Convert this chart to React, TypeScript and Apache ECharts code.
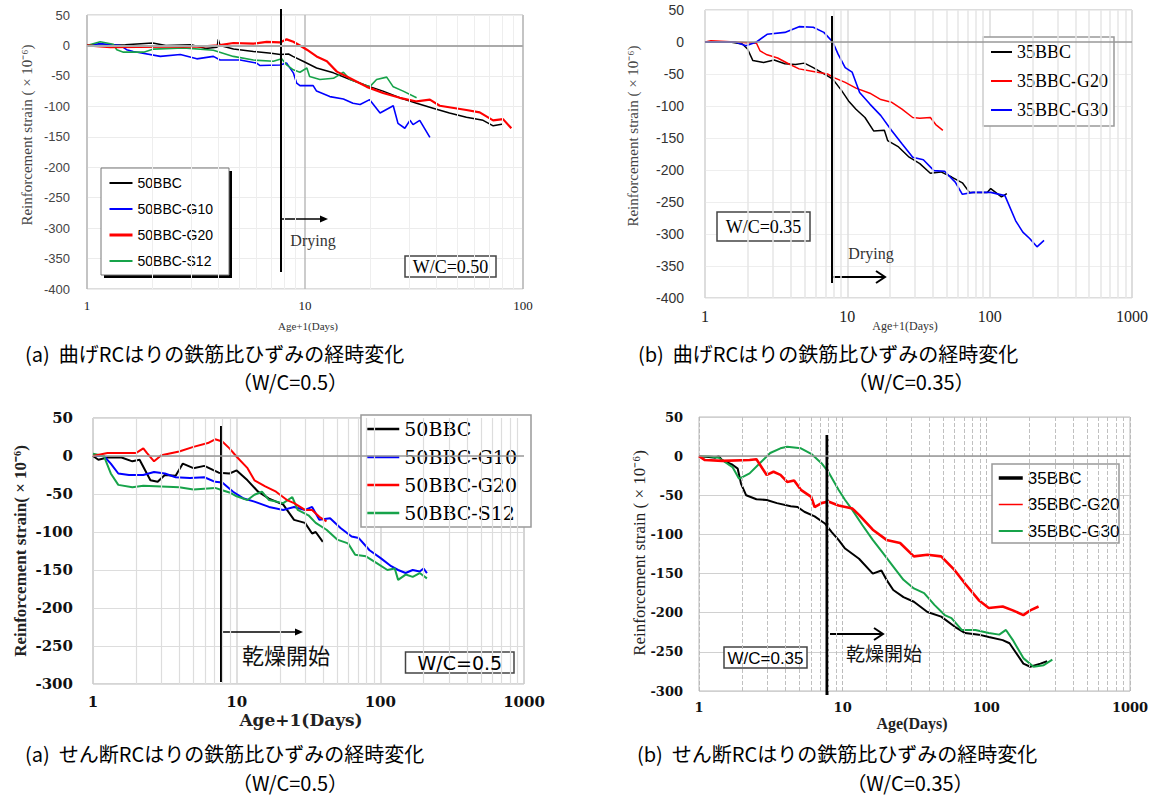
import React, { useEffect, useRef } from "react";
import * as echarts from "echarts";

// ---------- tick / gridline values ----------
const MINOR_2DEC = [2, 3, 4, 5, 6, 7, 8, 9, 20, 30, 40, 50, 60, 70, 80, 90];
const MINOR_3DEC = [...MINOR_2DEC, 200, 300, 400, 500, 600, 700, 800, 900];

// ---------- panel 1 : bending RC, W/C=0.5 ----------
const P1_NAMES = ["50BBC", "50BBC-G10", "50BBC-G20", "50BBC-S12"];
const P1_50BBC = [[1,0],[1.5,1],[2.0,4],[2.3,0],[3.0,1],[3.5,-5],[3.95,-3],[4.0,10],[4.08,0],[4.7,-6],[5.8,-10],[7.0,-13],[7.7,-15],[8.4,-14],[8.8,-18],[9.8,-26],[11.3,-37],[13.5,-45],[16.1,-56],[19.2,-66],[22.8,-75],[27.2,-86],[32.5,-95],[38.7,-103],[46,-111],[55,-118],[65.6,-123],[73,-132],[81,-129]];
const P1_G10 = [[1,0],[1.15,3],[1.42,0],[1.52,-7],[1.63,-10],[2.17,-18],[2.68,-15],[3.19,-22],[3.8,-18],[4.08,-24],[5.04,-24],[6.0,-29],[6.22,-33],[7.68,-32],[8.24,-29],[8.84,-45],[9.16,-62],[9.48,-66],[10.9,-66],[11.3,-75],[13.0,-84],[15,-88],[16.6,-95],[17.9,-97],[19.8,-89],[22.1,-111],[25.4,-99],[26.7,-128],[28.7,-136],[30.3,-123],[31.3,-130],[33.6,-123],[37.4,-151]];
const P1_G20 = [[1,0],[1.28,-3],[2.32,-2],[3.3,-2],[4.0,0],[4.69,4],[5.8,3],[6.67,6],[7.68,5],[8.24,10],[8.84,6],[9.48,0],[10.2,-7],[11.3,-18],[12.6,-26],[14,-43],[16.1,-54],[19.2,-68],[22.8,-78],[27.2,-86],[32.5,-92],[37.4,-89],[41.5,-99],[55,-106],[63.3,-110],[72.9,-123],[81,-121],[88.4,-136]];
const P1_S12 = [[1,0],[1.15,6],[1.32,2],[1.37,-7],[1.47,-11],[1.82,-11],[2.02,-6],[2.77,-4],[3.8,-8],[4.69,-18],[5.8,-24],[7.16,-26],[7.82,-22],[8.24,-32],[8.84,-40],[9.48,-44],[10.2,-37],[10.5,-51],[11.7,-56],[13.5,-54],[15,-44],[16.1,-56],[17.9,-62],[19.8,-68],[21.3,-56],[23.7,-52],[25.4,-68],[28.2,-75],[32.5,-86]];

// ---------- panel 2 : bending RC, W/C=0.35 ----------
const P2_NAMES = ["35BBC", "35BBC-G20", "35BBC-G30"];
const P2_35BBC = [[1,0],[1.5,0],[1.83,-3],[1.99,-11],[2.17,-29],[2.58,-32],[3.06,-28],[3.64,-34],[4.32,-35],[4.99,-33],[5.76,-40],[7.25,-53],[7.9,-58],[9.12,-76],[10.2,-92],[11.5,-105],[13.3,-118],[15.3,-139],[18.2,-138],[19.2,-154],[22.9,-164],[27.2,-180],[32.3,-190],[38.3,-205],[45.5,-203],[54.1,-211],[64.3,-220],[72.1,-235],[96.1,-235],[101.7,-229],[121,-242],[132,-237]];
const P2_G20 = [[1,0],[1.1,2],[1.63,0],[2.3,-2],[2.44,-14],[2.73,-20],[3.24,-25],[3.86,-34],[4.58,-42],[5.76,-46],[7.25,-50],[8.13,-56],[9.66,-63],[11.5,-72],[14.4,-80],[17.2,-90],[20.4,-94],[24.2,-105],[28.8,-118],[32.3,-119],[38.3,-118],[41.8,-129],[46.9,-138]];
const P2_G30 = [[1,0],[1.63,0],[1.94,-6],[2.3,0],[2.73,12],[3.64,15],[4.58,24],[5.76,23],[6.84,15],[7.9,0],[8.61,-19],[9.66,-40],[10.8,-47],[12.2,-79],[14.4,-97],[17.2,-115],[20.4,-138],[24.2,-159],[28.8,-180],[34.2,-184],[40.6,-201],[48.2,-202],[57.3,-219],[64.3,-238],[76.4,-235],[101.7,-235],[128,-240],[152,-279],[171,-297],[191,-307],[215,-320],[241,-310]];

// ---------- panel 3 : shear RC, W/C=0.5 ----------
const P3_NAMES = ["50BBC", "50BBC-G10", "50BBC-G20", "50BBC-S12"];
const P3_50BBC = [[1,0],[1.09,-5],[1.26,-2],[1.58,-2],[1.88,-7],[2.11,-5],[2.37,-23],[2.51,-32],[2.82,-34],[3.16,-25],[3.76,-26],[4.22,-10],[5.0,-16],[5.96,-13],[7.5,-22],[8.91,-23],[10,-19],[11.9,-32],[14.1,-47],[16.8,-56],[21.1,-64],[25.1,-84],[29.9,-88],[33.5,-102],[35.5,-100],[39.8,-113]];
const P3_G10 = [[1,0],[1.19,0],[1.33,-10],[1.5,-23],[1.78,-25],[2.24,-25],[2.66,-21],[3.16,-23],[3.76,-28],[4.73,-29],[5.96,-28],[7.08,-34],[7.94,-35],[9.44,-47],[11.2,-56],[13.3,-60],[16.8,-67],[21.1,-71],[25.1,-67],[29.9,-71],[33.5,-67],[37.6,-84],[44.7,-82],[53.1,-95],[63.1,-106],[70.8,-108],[84.1,-124],[100,-134],[119,-145],[133,-150],[150,-154],[168,-150],[188,-152],[200,-148],[211,-154]];
const P3_G20 = [[1,0],[1.26,4],[2.0,4],[2.24,10],[2.37,4],[2.66,-7],[2.99,1],[3.98,6],[5.0,12],[6.31,17],[7.08,22],[7.94,19],[8.91,10],[10,-1],[11.9,-16],[13.3,-32],[15.8,-40],[18.8,-47],[22.4,-58],[25.1,-62],[29.9,-71],[33.5,-71],[37.6,-80],[42.2,-86]];
const P3_S12 = [[1,3],[1.19,0],[1.33,-23],[1.5,-38],[1.88,-41],[2.24,-39],[2.99,-40],[3.98,-41],[5.0,-44],[7.08,-42],[7.94,-45],[8.91,-48],[10,-53],[11.9,-58],[13.3,-51],[15,-47],[16.8,-58],[21.1,-62],[24.4,-54],[26.6,-71],[31.6,-78],[35.5,-88],[42.2,-97],[50.1,-110],[59.6,-115],[66.8,-130],[79.4,-132],[94.4,-141],[112,-150],[126,-148],[133,-163],[150,-156],[168,-159],[188,-154],[211,-161]];

// ---------- panel 4 : shear RC, W/C=0.35 ----------
const P4_NAMES = ["35BBC", "35BBC-G20", "35BBC-G30"];
const P4_35BBC = [[1,0],[1.17,-1],[1.3,-2],[1.37,0],[1.45,-5],[1.71,-11],[1.86,-16],[1.96,-35],[2.13,-50],[2.51,-55],[2.96,-56],[3.49,-60],[4.35,-64],[4.85,-65],[5.41,-71],[6.38,-77],[7.52,-86],[8.39,-97],[9.36,-107],[10.4,-118],[13,-131],[16.2,-150],[18.6,-146],[20.2,-158],[22.5,-171],[26.5,-180],[31.3,-186],[38.9,-199],[48.5,-205],[60.4,-218],[71.2,-226],[88.6,-228],[104,-231],[130,-235],[145,-239],[181,-265],[202,-269],[238,-265],[265,-262]];
const P4_G20 = [[1,0],[1.1,-5],[1.45,-6],[2.25,-5],[2.51,-4],[2.96,-24],[3.3,-20],[3.69,-24],[4.11,-33],[4.59,-31],[5.12,-43],[6.04,-52],[6.38,-65],[7.12,-60],[7.94,-58],[9.36,-63],[11.7,-67],[13,-75],[16.2,-94],[20.2,-107],[25.1,-111],[31.3,-128],[38.9,-126],[48.5,-128],[60.4,-146],[71.2,-163],[88.6,-184],[104,-194],[130,-192],[153,-197],[181,-203],[202,-197],[231,-192]];
const P4_G30 = [[1,0],[1.17,0],[1.37,-2],[1.71,-14],[1.9,-29],[2.25,-22],[2.65,-9],[3.13,4],[3.69,10],[4.11,12],[5.12,10],[6.04,3],[7.12,-9],[7.94,-20],[9.36,-43],[10.4,-56],[11.7,-69],[13.7,-88],[16.2,-107],[19.1,-124],[22.5,-141],[26.5,-158],[31.3,-169],[36.9,-175],[43.5,-190],[51.3,-203],[57.2,-207],[67.4,-222],[83.9,-222],[104,-226],[123,-228],[137,-222],[153,-235],[181,-258],[213,-269],[251,-267],[288,-260]];

// ---------- texts ----------
const Y_NAME = "Reinforcement strain ( × 10⁻⁶)";
const Y_NAME_3 = "Reinforcement strain( × 10⁻⁶)";
const CAPTIONS = [
  "(a)  曲げRCはりの鉄筋比ひずみの経時変化",
  "(b)  曲げRCはりの鉄筋比ひずみの経時変化",
  "(a)  せん断RCはりの鉄筋比ひずみの経時変化",
  "(b)  せん断RCはりの鉄筋比ひずみの経時変化",
];
const SUBCAPTIONS = ["（W/C=0.5）", "（W/C=0.35）", "（W/C=0.5）", "（W/C=0.35）"];

const BLACK = "#000000";
const BLUE = "#0000ff";
const RED = "#ff0000";
const GREEN = "#17a34a";

function lineSeries(name: string, data: number[][], color: string, width: number, idx: number) {
  return {
    type: "line",
    name,
    data,
    xAxisIndex: idx,
    yAxisIndex: idx,
    showSymbol: false,
    symbol: "none",
    lineStyle: { color, width },
    itemStyle: { color },
    z: 2,
    silent: true,
  };
}

function gridSeries(idx: number, minor: number[], minorStyle: any, zeroStyle: any) {
  return {
    type: "line",
    name: "__grid" + idx,
    data: [[1, 0]],
    xAxisIndex: idx,
    yAxisIndex: idx,
    symbol: "none",
    showSymbol: false,
    lineStyle: { width: 0 },
    silent: true,
    z: 1,
    markLine: {
      silent: true,
      symbol: ["none", "none"],
      label: { show: false },
      animation: false,
      lineStyle: minorStyle,
      data: [
        ...minor.map((v) => ({ xAxis: v })),
        { yAxis: 0, lineStyle: zeroStyle },
      ],
    },
  };
}

function xAxisCfg(idx: number, max: number, label: any, split: any) {
  return {
    type: "log",
    logBase: 10,
    min: 1,
    max,
    gridIndex: idx,
    axisLine: { show: false },
    axisTick: { show: false },
    axisLabel: { ...label, formatter: (v: number) => String(Math.round(v)) },
    splitLine: { show: true, lineStyle: split },
  };
}

function yAxisCfg(idx: number, min: number, label: any, split: any) {
  return {
    type: "value",
    min,
    max: 50,
    interval: 50,
    gridIndex: idx,
    axisLine: { show: false },
    axisTick: { show: false },
    axisLabel: label,
    splitLine: { show: true, lineStyle: split },
  };
}

function legendItems(names: string[], colors: string[], widths: number[]) {
  return names.map((n, i) => ({
    name: n,
    lineStyle: { color: colors[i], width: widths[i], opacity: 1 },
    itemStyle: { color: colors[i], opacity: 0, borderWidth: 0 },
  }));
}

function txt(text: string, x: number, y: number, style: any, extra: any = {}) {
  return {
    type: "text",
    x,
    y,
    z: 6,
    silent: true,
    ...extra,
    style: {
      text,
      fill: "#000",
      align: "center",
      verticalAlign: "middle",
      textAlign: "center",
      textVerticalAlign: "middle",
      ...style,
    },
  };
}

function box(x: number, y: number, w: number, h: number, stroke: string, lw: number, fill = "#fff") {
  return {
    type: "rect",
    z: 3,
    silent: true,
    shape: { x, y, width: w, height: h },
    style: { fill, stroke, lineWidth: lw },
  };
}

function vline(x: number, y1: number, y2: number, w: number) {
  return { type: "line", z: 5, silent: true, shape: { x1: x, y1, x2: x, y2 }, style: { stroke: "#000", lineWidth: w } };
}
function hline(x1: number, x2: number, y: number, w: number) {
  return { type: "line", z: 5, silent: true, shape: { x1, y1: y, x2, y2: y }, style: { stroke: "#000", lineWidth: w } };
}

export default function App() {
  const ref = useRef<HTMLDivElement>(null);
  useEffect(() => {
    if (!ref.current) return;
    const chart = echarts.init(ref.current, undefined, { renderer: "svg" });

    const serif = "'Liberation Serif', serif";
    const sans = "'Liberation Sans', sans-serif";
    const dserif = "'DejaVu Serif', serif";
    const cjk = "'Noto Sans CJK JP', sans-serif";

    const legendBase = { orient: "vertical", padding: 0, z: 4, selectedMode: false, itemStyle: { opacity: 0 } };

    const option: any = {
      animation: false,
      backgroundColor: "#ffffff",
      grid: [
        { left: 87, top: 15, width: 436, height: 274, show: true, borderColor: "#bbbbbb", borderWidth: 1 },
        { left: 705, top: 10, width: 427, height: 288, show: true, borderColor: "#bbbbbb", borderWidth: 1 },
        { left: 93, top: 418, width: 431, height: 266, show: true, borderColor: "#aaaaaa", borderWidth: 1 },
        { left: 699, top: 417, width: 431, height: 274, show: true, borderColor: "#bbbbbb", borderWidth: 1 },
      ],
      xAxis: [
        xAxisCfg(0, 100, { fontFamily: serif, fontSize: 13, color: "#222", margin: 10 }, { color: "#bbbbbb", width: 1.5 }),
        xAxisCfg(1, 1000, { fontFamily: serif, fontSize: 16, color: "#222", margin: 10 }, { color: "#dddddd", width: 1.5 }),
        xAxisCfg(2, 1000, { fontFamily: dserif, fontWeight: "bold", fontSize: 15, color: "#111", margin: 10 }, { color: "#d5d5d5", width: 1.5 }),
        xAxisCfg(3, 1000, { fontFamily: dserif, fontWeight: "bold", fontSize: 13, color: "#111", margin: 10 }, { color: "#bbbbbb", width: 1, type: "dashed" }),
      ],
      yAxis: [
        yAxisCfg(0, -400, { fontFamily: sans, fontSize: 13, color: "#444", margin: 17 }, { color: "#ececec" }),
        yAxisCfg(1, -400, { fontFamily: sans, fontSize: 14, color: "#333", margin: 21 }, { color: "#eeeeee" }),
        yAxisCfg(2, -300, { fontFamily: dserif, fontWeight: "bold", fontSize: 15, color: "#111", margin: 20 }, { color: "#dddddd", width: 1.2 }),
        yAxisCfg(3, -300, { fontFamily: dserif, fontWeight: "bold", fontSize: 13, color: "#111", margin: 16 }, { color: "#d0d0d0", width: 1.2 }),
      ],
      legend: [
        {
          ...legendBase,
          data: legendItems(P1_NAMES, [BLACK, BLUE, RED, GREEN], [2, 2, 3, 2]),
          left: 108, top: 176, itemGap: 12, itemWidth: 23, itemHeight: 14,
          textStyle: { fontFamily: sans, fontSize: 14, lineHeight: 14, color: "#000" },
        },
        {
          ...legendBase,
          data: legendItems(P2_NAMES, [BLACK, RED, BLUE], [2, 2, 2]),
          left: 990, top: 43, itemGap: 11, itemWidth: 21, itemHeight: 18,
          textStyle: { fontFamily: serif, fontSize: 18, lineHeight: 18, color: "#000" },
        },
        {
          ...legendBase,
          data: legendItems(P3_NAMES, [BLACK, BLUE, RED, GREEN], [2.5, 2.5, 2.5, 2.5]),
          left: 366, top: 419.5, itemGap: 9, itemWidth: 32, itemHeight: 19,
          textStyle: { fontFamily: dserif, fontSize: 19, lineHeight: 19, color: "#000" },
        },
        {
          ...legendBase,
          data: legendItems(P4_NAMES, [BLACK, RED, GREEN], [3.5, 1.5, 2]),
          left: 997, top: 469.5, itemGap: 9.5, itemWidth: 24, itemHeight: 17,
          textStyle: { fontFamily: sans, fontSize: 17, lineHeight: 17, color: "#000" },
        },
      ],
      series: [
        gridSeries(0, MINOR_2DEC, { color: "#eeeeee", width: 1, type: "solid" }, { color: "#aaaaaa", width: 2, type: "solid" }),
        gridSeries(1, MINOR_3DEC, { color: "#e6e6e6", width: 1.5, type: "solid" }, { color: "#999999", width: 1.5, type: "solid" }),
        gridSeries(2, MINOR_3DEC, { color: "#dddddd", width: 1.2, type: "solid" }, { color: "#999999", width: 1.5, type: "solid" }),
        gridSeries(3, MINOR_3DEC, { color: "#c0c0c0", width: 1, type: "dashed" }, { color: "#999999", width: 1.5, type: "solid" }),

        lineSeries(P2_NAMES[0], P2_35BBC, BLACK, 1.5, 1),
        lineSeries(P2_NAMES[1], P2_G20, RED, 1.5, 1),
        lineSeries(P2_NAMES[2], P2_G30, BLUE, 1.6, 1),

        lineSeries(P1_NAMES[0], P1_50BBC, BLACK, 1.5, 0),
        lineSeries(P1_NAMES[1], P1_G10, BLUE, 1.6, 0),
        lineSeries(P1_NAMES[3], P1_S12, GREEN, 1.6, 0),
        lineSeries(P1_NAMES[2], P1_G20, RED, 2.2, 0),

        lineSeries(P3_NAMES[0], P3_50BBC, BLACK, 2, 2),
        lineSeries(P3_NAMES[1], P3_G10, BLUE, 2, 2),
        lineSeries(P3_NAMES[3], P3_S12, GREEN, 2, 2),
        lineSeries(P3_NAMES[2], P3_G20, RED, 2, 2),

        lineSeries(P4_NAMES[0], P4_35BBC, BLACK, 2, 3),
        lineSeries(P4_NAMES[2], P4_G30, GREEN, 2, 3),
        lineSeries(P4_NAMES[1], P4_G20, RED, 2.6, 3),
      ],
      graphic: [
        // legend boxes
        { type: "rect", z: 3, silent: true, shape: { x: 229, y: 171, width: 3, height: 107 }, style: { fill: "#000" } },
        { type: "rect", z: 3, silent: true, shape: { x: 104, y: 275, width: 128, height: 3 }, style: { fill: "#000" } },
        box(101, 168, 128, 107, "#777", 1),
        box(983, 37, 131, 89, "#999", 1.5),
        box(361, 415, 170, 112, "#999", 1.5),
        box(992, 464, 127, 79, "#999", 1.5),
        // W/C boxes
        box(405, 256, 91, 21, "#444", 1.5),
        txt("W/C=0.50", 450.5, 267, { fontFamily: serif, fontSize: 18 }),
        box(717, 212, 93, 29, "#444", 1.5),
        txt("W/C=0.35", 763.5, 227, { fontFamily: serif, fontSize: 18 }),
        box(405.5, 652, 108.5, 21, "#444", 1.5),
        txt("W/C=0.5", 459.8, 663, { fontFamily: "'DejaVu Sans', sans-serif", fontSize: 19 }),
        box(724, 647, 83, 21, "#444", 1.5),
        txt("W/C=0.35", 765.5, 658, { fontFamily: sans, fontSize: 17 }),
        // drying markers
        vline(281, 9, 272, 2),
        hline(281, 322, 219, 1.5),
        { type: "polygon", z: 5, silent: true, shape: { points: [[320, 215.5], [328, 219], [320, 222.5]] }, style: { fill: "#000" } },
        txt("Drying", 313, 240, { fontFamily: serif, fontSize: 16, fill: "#333" }),

        vline(832, 16, 283, 2),
        hline(832, 884, 277, 2),
        { type: "polyline", z: 5, silent: true, shape: { points: [[876, 271], [885, 277], [876, 283]] }, style: { stroke: "#000", lineWidth: 2, fill: "none" } },
        txt("Drying", 871, 253, { fontFamily: serif, fontSize: 16, fill: "#333" }),

        vline(221.5, 426, 682, 3),
        hline(221.5, 298, 632, 1.5),
        { type: "polygon", z: 5, silent: true, shape: { points: [[295, 628.5], [303, 632], [295, 635.5]] }, style: { fill: "#000" } },
        txt("乾燥開始", 286, 654, { fontFamily: cjk, fontSize: 22, fill: "#111" }),

        vline(827, 435, 695, 3),
        hline(830, 882, 634, 2),
        { type: "polyline", z: 5, silent: true, shape: { points: [[874, 628], [883, 634], [874, 640]] }, style: { stroke: "#000", lineWidth: 2, fill: "none" } },
        txt("乾燥開始", 884, 652, { fontFamily: cjk, fontSize: 19, fill: "#111" }),

        // axis names
        txt(Y_NAME, 27, 135, { fontFamily: serif, fontSize: 15, fill: "#444" }, { rotation: Math.PI / 2 }),
        txt(Y_NAME, 633, 136, { fontFamily: serif, fontSize: 15, fill: "#444" }, { rotation: Math.PI / 2 }),
        txt(Y_NAME_3, 20, 551, { fontFamily: serif, fontSize: 17, fontWeight: "bold", fill: "#222" }, { rotation: Math.PI / 2 }),
        txt(Y_NAME, 639, 553, { fontFamily: serif, fontSize: 17, fill: "#222" }, { rotation: Math.PI / 2 }),
        txt("Age+1(Days)", 308, 326, { fontFamily: serif, fontSize: 11, fill: "#333" }),
        txt("Age+1(Days)", 905, 326, { fontFamily: serif, fontSize: 12, fill: "#333" }),
        txt("Age+1(Days)", 301, 720, { fontFamily: dserif, fontSize: 17, fontWeight: "bold", fill: "#222" }),
        txt("Age(Days)", 912, 723, { fontFamily: serif, fontSize: 16, fontWeight: "bold", fill: "#222" }),

        // captions
        txt(CAPTIONS[0], 25, 353, { fontFamily: cjk, fontSize: 20, align: "left", textAlign: "left" }),
        txt(SUBCAPTIONS[0], 290, 381, { fontFamily: cjk, fontSize: 20 }),
        txt(CAPTIONS[1], 638, 353, { fontFamily: cjk, fontSize: 20, align: "left", textAlign: "left" }),
        txt(SUBCAPTIONS[1], 911, 381, { fontFamily: cjk, fontSize: 20 }),
        txt(CAPTIONS[2], 25, 753, { fontFamily: cjk, fontSize: 20, align: "left", textAlign: "left" }),
        txt(SUBCAPTIONS[2], 290, 782, { fontFamily: cjk, fontSize: 20 }),
        txt(CAPTIONS[3], 637, 753, { fontFamily: cjk, fontSize: 20, align: "left", textAlign: "left" }),
        txt(SUBCAPTIONS[3], 910, 782, { fontFamily: cjk, fontSize: 20 }),
      ],
    };

    chart.setOption(option);
    return () => chart.dispose();
  }, []);

  return (
    <div
      ref={ref}
      style={{ position: "absolute", left: 0, top: 0, width: 1153, height: 800, background: "#fff" }}
    />
  );
}
